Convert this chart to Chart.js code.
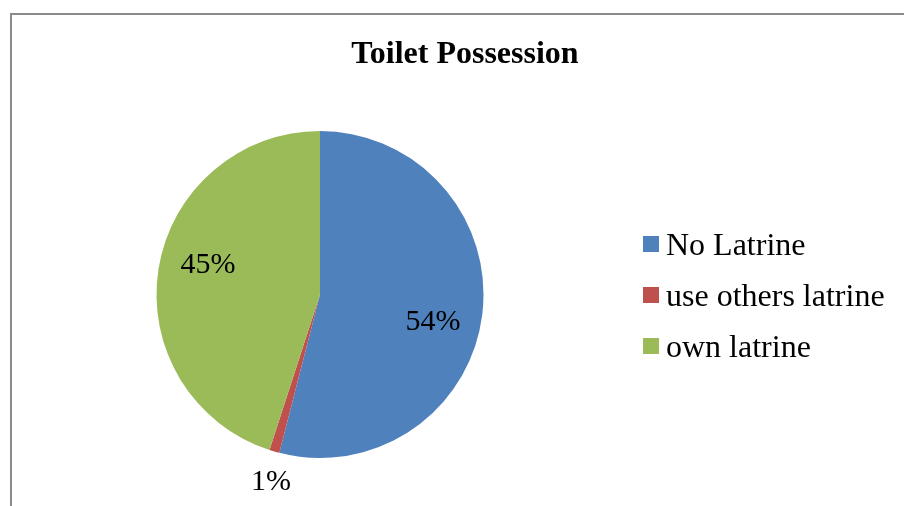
<!DOCTYPE html>
<html>
<head>
<meta charset="utf-8">
<title>Toilet Possession</title>
<script src="https://cdn.jsdelivr.net/npm/chart.js@4.4.1/dist/chart.umd.min.js"></script>
<style>
  html, body {
    margin: 0;
    padding: 0;
    width: 904px;
    height: 506px;
    overflow: hidden;
    background: #fff;
    font-family: "Liberation Serif", "Times New Roman", serif;
  }
  .frame {
    position: absolute;
    left: 10px;
    top: 13px;
    width: 1000px;
    height: 600px;
    border-top: 2px solid #8a8a8a;
    border-left: 2px solid #8a8a8a;
  }
  #toilet-chart {
    position: absolute;
    left: 0;
    top: 0;
  }
  .chart__title {
    position: absolute;
    left: 465px;
    top: 36px;
    transform: translateX(-50%);
    font-weight: bold;
    font-size: 32px;
    line-height: 32px;
    white-space: nowrap;
    color: #000;
  }
  .legend {
    position: absolute;
    left: 643px;
    top: 218px;
  }
  .legend__row {
    display: flex;
    align-items: center;
    height: 51.3px;
  }
  .legend__box {
    width: 16px;
    height: 16px;
    margin-right: 7px;
  }
  .legend__text {
    font-size: 32px;
    line-height: 32px;
    white-space: nowrap;
    color: #000;
  }
</style>
</head>
<body>
<div class="frame"></div>
<canvas id="toilet-chart" width="904" height="506"></canvas>
<div class="chart__title">Toilet Possession</div>
<div class="legend" id="toilet-legend"></div>

<script>
/* ===== DATA ===== */
const categories = ['No Latrine', 'use others latrine', 'own latrine'];
const shares = [54, 1, 45];
const sliceColors = ['#4F81BD', '#C0504D', '#9BBB59'];

/* ===== PERCENT LABELS (inside big slices, outside thin ones) ===== */
const pctLabels = {
    id: 'pctLabels',
    afterDatasetsDraw(chart) {
        const ctx = chart.ctx;
        const meta = chart.getDatasetMeta(0);
        const values = chart.data.datasets[0].data;
        const total = values.reduce((a, b) => a + b, 0);

        ctx.save();
        ctx.font = '30px "Liberation Serif", "Times New Roman", serif';
        ctx.fillStyle = '#000';
        ctx.textAlign = 'center';
        ctx.textBaseline = 'middle';

        meta.data.forEach((arc, i) => {
            const { x, y, startAngle, endAngle, outerRadius } = arc.getProps(
                ['x', 'y', 'startAngle', 'endAngle', 'outerRadius'], true);
            const pct = values[i] / total * 100;
            let mid = (startAngle + endAngle) / 2;
            let dist;
            if (pct < 5) {
                mid -= 1.5 * Math.PI / 180;
                dist = outerRadius * 1.18;
            } else {
                // best-fit placement turns the label a little clockwise
                mid += 6 * Math.PI / 180;
                dist = outerRadius * 0.71;
            }
            ctx.fillText(Math.round(pct) + '%', x + Math.cos(mid) * dist, y + Math.sin(mid) * dist + 1);
        });
        ctx.restore();
    }
};

/* ===== PIE ===== */
const chart = new Chart(document.getElementById('toilet-chart'), {
    type: 'pie',
    data: {
        labels: categories,
        datasets: [{
            data: shares,
            backgroundColor: sliceColors,
            borderWidth: 0
        }]
    },
    options: {
        responsive: false,
        animation: false,
        layout: {
            padding: { left: 156, right: 420, top: 131, bottom: 48 }
        },
        plugins: {
            legend: { display: false },
            title: { display: false },
            tooltip: { enabled: false }
        }
    },
    plugins: [pctLabels]
});

/* ===== LEGEND ===== */
function renderLegend(chart) {
    const box = document.getElementById('toilet-legend');
    const ds = chart.data.datasets[0];
    box.innerHTML = chart.data.labels.map((name, i) => `
        <div class="legend__row">
            <span class="legend__box" style="background: ${ds.backgroundColor[i]}"></span>
            <span class="legend__text">${name}</span>
        </div>
    `).join('');
}

renderLegend(chart);
</script>
</body>
</html>
